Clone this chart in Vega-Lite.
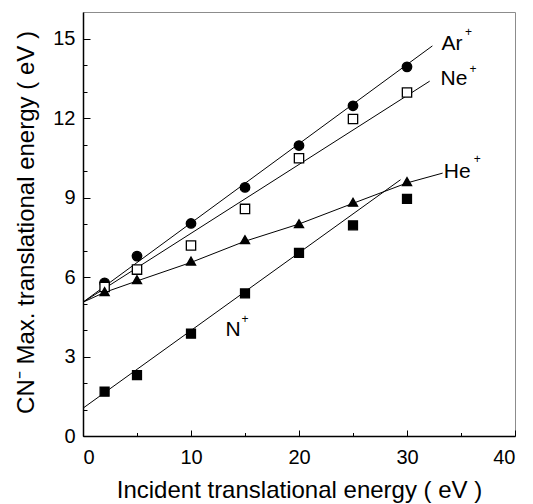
{
  "$schema": "https://vega.github.io/schema/vega-lite/v6.json",
  "width": 432,
  "height": 424,
  "autosize": {"type": "none"},
  "padding": {"left": 83, "top": 12, "right": 18, "bottom": 68},
  "background": "white",
  "config": {
    "font": "Liberation Sans",
    "view": {"stroke": "#8c8c8c", "strokeWidth": 1},
    "axis": {
      "grid": false,
      "domainColor": "black",
      "domainWidth": 1.5,
      "tickColor": "black",
      "tickWidth": 1,
      "labelColor": "black",
      "labelFont": "Liberation Sans",
      "labelFontSize": 20,
      "titleFont": "Liberation Sans",
      "titleFontSize": 24,
      "titleFontWeight": "normal",
      "titleColor": "black"
    }
  },
  "datasets": {
    "points": [
      {"series": "Ar", "x": 2, "y": 5.78},
      {"series": "Ar", "x": 5, "y": 6.79},
      {"series": "Ar", "x": 10, "y": 8.02},
      {"series": "Ar", "x": 15, "y": 9.38},
      {"series": "Ar", "x": 20, "y": 10.96},
      {"series": "Ar", "x": 25, "y": 12.46},
      {"series": "Ar", "x": 30, "y": 13.93},
      {"series": "Ne", "x": 2, "y": 5.62},
      {"series": "Ne", "x": 5, "y": 6.28},
      {"series": "Ne", "x": 10, "y": 7.19},
      {"series": "Ne", "x": 15, "y": 8.57},
      {"series": "Ne", "x": 20, "y": 10.48},
      {"series": "Ne", "x": 25, "y": 11.96},
      {"series": "Ne", "x": 30, "y": 12.96},
      {"series": "He", "x": 2, "y": 5.45},
      {"series": "He", "x": 5, "y": 5.9},
      {"series": "He", "x": 10, "y": 6.6},
      {"series": "He", "x": 15, "y": 7.41},
      {"series": "He", "x": 20, "y": 8.01},
      {"series": "He", "x": 25, "y": 8.82},
      {"series": "He", "x": 30, "y": 9.6},
      {"series": "N", "x": 2, "y": 1.67},
      {"series": "N", "x": 5, "y": 2.3},
      {"series": "N", "x": 10, "y": 3.86},
      {"series": "N", "x": 15, "y": 5.38},
      {"series": "N", "x": 20, "y": 6.91},
      {"series": "N", "x": 25, "y": 7.95},
      {"series": "N", "x": 30, "y": 8.95}
    ],
    "fits": [
      {"series": "Ar", "x": 0, "y": 5.05},
      {"series": "Ar", "x": 32.35, "y": 14.72},
      {"series": "Ne", "x": 0, "y": 5.05},
      {"series": "Ne", "x": 32.1, "y": 13.39},
      {"series": "He", "x": 0, "y": 5.05},
      {"series": "He", "x": 2, "y": 5.42},
      {"series": "He", "x": 5, "y": 5.85},
      {"series": "He", "x": 10, "y": 6.55},
      {"series": "He", "x": 15, "y": 7.35},
      {"series": "He", "x": 20, "y": 8.0},
      {"series": "He", "x": 25, "y": 8.78},
      {"series": "He", "x": 30, "y": 9.55},
      {"series": "He", "x": 33.3, "y": 9.92},
      {"series": "N", "x": 0, "y": 1.05},
      {"series": "N", "x": 29.4, "y": 9.67}
    ],
    "labels": [
      {"text": "Ar", "x": 33.2, "y": 14.57},
      {"text": "Ne", "x": 33.1, "y": 13.24},
      {"text": "He", "x": 33.4, "y": 9.73},
      {"text": "N", "x": 13.2, "y": 3.78}
    ],
    "sups": [
      {"text": "+", "x": 35.7, "y": 15.24},
      {"text": "+", "x": 36.1, "y": 13.86},
      {"text": "+", "x": 36.5, "y": 10.46},
      {"text": "+", "x": 15.0, "y": 4.43}
    ]
  },
  "layer": [
    {
      "data": {"name": "fits"},
      "mark": {"type": "line", "color": "black", "strokeWidth": 1},
      "encoding": {
        "x": {
          "field": "x", "type": "quantitative",
          "scale": {"domain": [0, 40], "nice": false, "zero": false},
          "axis": {
            "orient": "bottom",
            "values": [0, 10, 20, 30, 40],
            "tickSize": -6,
            "labelPadding": 17,
            "labelBaseline": "top",
            "title": "Incident translational energy ( eV )",
            "titleX": 216,
            "titleY": 61,
            "titleBaseline": "alphabetic",
            "titleAlign": "center"
          }
        },
        "y": {
          "field": "y", "type": "quantitative",
          "scale": {"domain": [0, 16], "nice": false, "zero": false},
          "axis": {
            "orient": "left",
            "values": [0, 3, 6, 9, 12, 15],
            "tickSize": -7,
            "labelPadding": 15,
            "title": "CN⁻ Max. translational energy ( eV )",
            "titleX": -50,
            "titleY": 210,
            "titleAngle": -90,
            "titleBaseline": "alphabetic",
            "titleAlign": "center"
          }
        },
        "detail": {"field": "series", "type": "nominal"},
        "order": {"field": "x", "type": "quantitative"}
      }
    },
    {
      "data": {"name": "points"},
      "mark": {"type": "point", "filled": true, "stroke": "black", "strokeWidth": 1.3, "opacity": 1},
      "encoding": {
        "x": {
          "field": "x", "type": "quantitative",
          "scale": {"domain": [0, 40], "nice": false, "zero": false},
          "axis": {"orient": "bottom", "values": [5, 15, 25, 35], "tickSize": -3.5, "labels": false, "domain": false, "title": null}
        },
        "y": {
          "field": "y", "type": "quantitative",
          "scale": {"domain": [0, 16], "nice": false, "zero": false},
          "axis": {"orient": "left", "values": [1, 2, 4, 5, 7, 8, 10, 11, 13, 14], "tickSize": -4, "labels": false, "domain": false, "title": null}
        },
        "shape": {
          "field": "series", "type": "nominal",
          "scale": {"domain": ["Ar", "Ne", "He", "N"], "range": ["circle", "square", "triangle-up", "square"]},
          "legend": null
        },
        "fill": {
          "field": "series", "type": "nominal",
          "scale": {"domain": ["Ar", "Ne", "He", "N"], "range": ["black", "white", "black", "black"]},
          "legend": null
        },
        "size": {
          "field": "series", "type": "nominal",
          "scale": {"domain": ["Ar", "Ne", "He", "N"], "range": [90, 80, 160, 115]},
          "legend": null
        }
      }
    },
    {
      "data": {"name": "labels"},
      "mark": {"type": "text", "align": "left", "baseline": "alphabetic", "fontSize": 21, "font": "Liberation Sans", "color": "black"},
      "encoding": {
        "x": {"field": "x", "type": "quantitative", "scale": {"domain": [0, 40], "nice": false, "zero": false}, "axis": null},
        "y": {"field": "y", "type": "quantitative", "scale": {"domain": [0, 16], "nice": false, "zero": false}, "axis": null},
        "text": {"field": "text", "type": "nominal"}
      }
    },
    {
      "data": {"name": "sups"},
      "mark": {"type": "text", "align": "center", "baseline": "middle", "fontSize": 12, "font": "Liberation Sans", "color": "black"},
      "encoding": {
        "x": {"field": "x", "type": "quantitative", "scale": {"domain": [0, 40], "nice": false, "zero": false}, "axis": null},
        "y": {"field": "y", "type": "quantitative", "scale": {"domain": [0, 16], "nice": false, "zero": false}, "axis": null},
        "text": {"field": "text", "type": "nominal"}
      }
    }
  ],
  "resolve": {"axis": {"x": "independent", "y": "independent"}}
}
